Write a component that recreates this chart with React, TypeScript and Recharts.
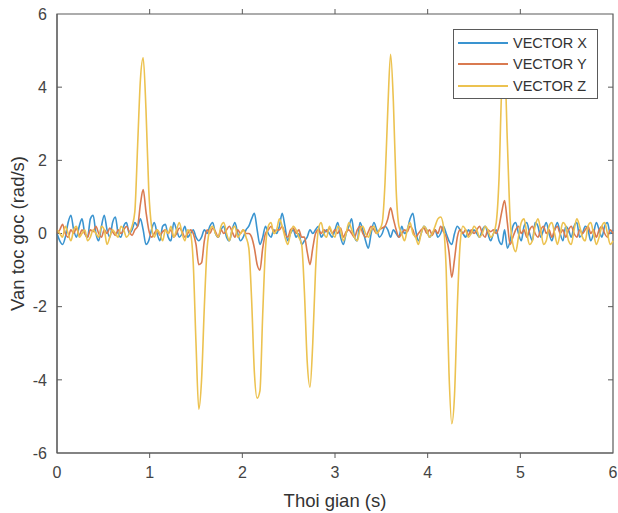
import React from "react";
import { Label, Line, LineChart, ReferenceArea, ReferenceLine, XAxis, YAxis } from "recharts";

// samples every 0.03 s from 0 to 6 s
const STEP = 0.03;

const vectorX = [
  0.0, -0.2, -0.3, -0.1, 0.3, 0.5, 0.1, -0.1, 0.2, 0.4,
  0.0, -0.1, 0.4, 0.5, 0.0, -0.2, 0.2, 0.5, 0.1, -0.1,
  0.3, 0.45, 0.0, -0.1, 0.2, 0.3, 0.0, 0.1, 0.3, 0.2,
  0.4, 0.1, -0.3, -0.2, 0.1, 0.3, 0.0, -0.2, 0.2, 0.25,
  -0.1, -0.2, 0.3, 0.1, -0.1, 0.0, 0.2, -0.1, 0.0, 0.1,
  -0.1, -0.2, -0.1, 0.1, 0.0, 0.2, 0.3, 0.0, -0.1, 0.1,
  0.2, -0.1, -0.2, 0.1, 0.3, 0.0, -0.2, -0.1, 0.1, 0.2,
  0.4, 0.55, 0.1, -0.3, -0.1, 0.2, 0.0, -0.1, 0.1, 0.0,
  0.2, 0.55, 0.2, -0.2, 0.0, 0.1, -0.1, 0.0, -0.3, -0.2,
  -0.1, 0.1, 0.0, 0.1, 0.2, -0.1, 0.0, 0.1, 0.0, -0.1,
  0.1, 0.3, -0.1, -0.3, 0.0, 0.2, 0.4, -0.1, -0.2, 0.3,
  0.1, -0.2, -0.4, 0.0, 0.3, 0.1, -0.1, 0.0, 0.2, 0.1,
  -0.1, 0.1, 0.0, -0.1, 0.2, 0.0, 0.1, 0.4, 0.55, 0.1,
  -0.2, 0.0, 0.2, 0.1, -0.1, 0.0, 0.1, -0.1, 0.0, 0.2,
  0.0, -0.2, -0.3, 0.0, 0.2, 0.1, 0.0, -0.1, 0.1, 0.0,
  0.1, 0.0, -0.1, 0.1, 0.2, 0.0, -0.2, 0.0, 0.1, -0.2,
  -0.3, 0.1, -0.4, -0.2, 0.2, 0.3, 0.0, -0.2, 0.2, 0.3,
  0.0, -0.2, 0.3, 0.2, -0.1, 0.1, 0.3, 0.0, -0.2, 0.1,
  0.3, 0.0, -0.2, 0.2, 0.1, -0.1, 0.2, 0.3, -0.1, 0.0,
  0.2, 0.1, -0.2, 0.0, 0.3, 0.1, -0.1, 0.2, 0.3, 0.0,
  0.1,
];

const vectorY = [
  0.0, 0.1, 0.25, 0.0, -0.1, 0.1, 0.0, 0.15, -0.05, 0.1,
  0.0, -0.1, 0.1, 0.05, 0.2, 0.0, -0.1, 0.1, 0.0, 0.15,
  0.05, -0.05, 0.1, 0.0, 0.1, 0.2, 0.05, -0.05, 0.1, 0.2,
  0.8, 1.2, 0.6, 0.1, -0.1, 0.0, 0.1, -0.05, 0.05, 0.1,
  0.0, 0.1, -0.1, 0.0, 0.15, 0.05, -0.1, 0.0, 0.1, 0.0,
  -0.3, -0.85, -0.8, -0.2, 0.1, 0.0, 0.15, 0.05, -0.1, 0.1,
  0.0, 0.1, 0.2, 0.05, -0.1, 0.1, 0.0, 0.1, 0.0, 0.0,
  -0.1, -0.4, -0.85, -1.0, -0.4, 0.0, 0.1, 0.2, 0.05, 0.1,
  0.1, 0.2, 0.0, -0.1, 0.1, 0.15, 0.0, 0.1, -0.1, -0.1,
  -0.5, -0.85, -0.4, 0.0, 0.1, 0.0, 0.1, 0.05, 0.15, 0.0,
  0.1, 0.0, 0.15, -0.1, 0.05, 0.1, 0.0, -0.1, 0.1, 0.2,
  0.0, -0.1, 0.05, 0.2, 0.1, 0.0, 0.1, 0.15, 0.2, 0.4,
  0.7, 0.4, 0.1, -0.1, 0.0, 0.1, 0.05, 0.2, 0.1, -0.1,
  0.0, 0.1, 0.15, 0.0, 0.1, -0.05, 0.1, 0.0, 0.2, 0.05,
  -0.1, -0.5, -1.2, -0.7, -0.1, 0.1, 0.0, 0.1, -0.05, 0.1,
  0.0, 0.1, 0.2, 0.0, -0.1, 0.1, 0.05, 0.1, 0.0, 0.2,
  0.6, 0.9, 0.3, -0.3, -0.1, 0.1, 0.2, 0.0, 0.1, -0.1,
  0.1, 0.2, 0.0, -0.1, 0.1, 0.2, 0.0, 0.1, -0.1, 0.1,
  0.2, 0.0, 0.1, -0.1, 0.1, 0.2, 0.0, -0.1, 0.1, 0.0,
  0.1, 0.2, 0.0, 0.1, -0.1, 0.1, 0.2, 0.0, -0.1, 0.1,
  0.0,
];

const vectorZ = [
  0.1, 0.0, -0.1, 0.2, 0.0, -0.2, 0.1, 0.2, -0.1, 0.0,
  0.1, -0.2, -0.1, 0.1, 0.0, -0.1, 0.2, 0.1, -0.3, -0.1,
  0.1, 0.0, -0.1, 0.2, 0.1, -0.1, 0.0, 0.2, 0.6, 2.4,
  4.2, 4.8, 3.4, 1.2, 0.2, -0.1, 0.1, 0.0, -0.2, 0.1,
  0.0, 0.2, -0.1, 0.1, 0.3, 0.0, -0.2, 0.1, 0.0, -0.8,
  -3.0, -4.8, -4.0, -2.0, -0.4, 0.1, 0.2, 0.0, -0.1, 0.2,
  0.3, 0.0, -0.2, 0.1, 0.2, -0.1, 0.0, 0.1, -0.1, -0.4,
  -1.8, -3.8, -4.5, -4.3, -2.2, -0.4, 0.2, 0.3, 0.0, 0.1,
  0.4, 0.2, -0.1, -0.3, 0.0, 0.2, 0.1, -0.1, -0.3, -1.6,
  -3.5, -4.2, -3.0, -1.0, 0.1, 0.3, 0.0, -0.1, 0.2, 0.0,
  -0.1, 0.2, 0.1, -0.2, 0.0, 0.3, 0.1, -0.1, -0.2, 0.1,
  0.2, 0.0, -0.1, 0.1, 0.2, 0.0, 0.1, 0.3, 1.4, 3.4,
  4.9, 3.6, 1.2, 0.2, 0.0, -0.2, 0.1, 0.3, 0.0, -0.1,
  -0.3, 0.0, 0.2, 0.1, -0.1, 0.0, 0.2, 0.4, 0.45, 0.2,
  -1.0, -3.8, -5.2, -4.4, -2.0, -0.3, 0.2, 0.1, -0.1, 0.0,
  0.2, 0.1, -0.1, 0.0, 0.2, 0.1, -0.1, 0.0, 0.3, 1.5,
  4.0, 4.6, 2.5, 0.4, -0.3, -0.5, -0.1, 0.3, 0.4, 0.0,
  -0.3, -0.2, 0.2, 0.4, 0.1, -0.3, -0.2, 0.2, 0.3, 0.0,
  -0.3, 0.0, 0.3, 0.2, -0.2, -0.3, 0.1, 0.4, 0.2, -0.1,
  -0.2, 0.2, 0.3, 0.0, -0.3, -0.1, 0.2, 0.3, 0.0, -0.3,
  -0.2,
];

const xTicks = [0, 1, 2, 3, 4, 5, 6];
const yTicks = [-6, -4, -2, 0, 2, 4, 6];

const series = [
  { key: "x", name: "VECTOR X", color: "#3a94d0" },
  { key: "y", name: "VECTOR Y", color: "#d97a50" },
  { key: "z", name: "VECTOR Z", color: "#ecc250" },
];

const data = vectorX.map((v, i) => ({
  t: +(i * STEP).toFixed(2),
  x: v,
  y: vectorY[i],
  z: vectorZ[i],
}));

const AXIS = "#5a5a5a";
const TEXT = "#444";
const FONT = "'Liberation Sans', Arial, sans-serif";
const TICK_IN = 5;

// MATLAB-style inward tick marks on all four sides of the box
function XTickMarks(p: any) {
  const { x1, y1, x2, y2 } = p;
  return (
    <g stroke={AXIS} strokeWidth={1}>
      <line x1={x1} x2={x1} y1={y1} y2={y1 + TICK_IN} />
      <line x1={x2} x2={x2} y1={y2} y2={y2 - TICK_IN} />
    </g>
  );
}

function YTickMarks(p: any) {
  const { x1, y1, x2, y2 } = p;
  return (
    <g stroke={AXIS} strokeWidth={1}>
      <line x1={x1} x2={x1 + TICK_IN} y1={y1} y2={y1} />
      <line x1={x2} x2={x2 - TICK_IN} y1={y2} y2={y2} />
    </g>
  );
}

function LegendBox() {
  return (
    <div
      style={{
        position: "absolute",
        left: 453,
        top: 29,
        width: 145,
        height: 70,
        border: `1.5px solid ${AXIS}`,
        background: "#fff",
        fontFamily: FONT,
        fontSize: 14.5,
        color: "#333",
        boxSizing: "border-box",
        padding: "2px 0 0 4px",
      }}
    >
      {series.map((s) => (
        <div key={s.key} style={{ display: "flex", alignItems: "center", height: 21.5 }}>
          <span style={{ display: "inline-block", width: 50, height: 2, background: s.color }} />
          <span style={{ marginLeft: 5 }}>{s.name}</span>
        </div>
      ))}
    </div>
  );
}

export default function App() {
  return (
    <div style={{ position: "absolute", left: 0, top: 0, width: 618, height: 513, background: "#fff" }}>
      <LineChart width={618} height={513} data={data} margin={{ top: 14, right: 5, bottom: 0, left: 0 }}>
        <XAxis
          dataKey="t"
          type="number"
          domain={[0, 6]}
          ticks={xTicks}
          height={60}
          stroke={AXIS}
          tickLine={false}
          tickSize={0}
          tickMargin={14}
          tick={{ fill: TEXT, fontSize: 16, fontFamily: FONT }}
        >
          <Label
            value="Thoi gian (s)"
            position="insideBottom"
            offset={6}
            style={{ fill: "#333", fontSize: 18.5, fontFamily: FONT }}
          />
        </XAxis>
        <YAxis
          type="number"
          domain={[-6, 6]}
          ticks={yTicks}
          width={57}
          stroke={AXIS}
          tickLine={false}
          tickSize={0}
          tickMargin={10}
          tick={{ fill: TEXT, fontSize: 16, fontFamily: FONT }}
        >
          <Label
            value="Van toc goc (rad/s)"
            angle={-90}
            position="insideLeft"
            offset={17}
            style={{ fill: "#333", fontSize: 18.5, fontFamily: FONT, textAnchor: "middle" }}
          />
        </YAxis>
        <ReferenceArea x1={0} x2={6} y1={-6} y2={6} fill="none" stroke={AXIS} strokeWidth={1.2} />
        {xTicks.slice(1, -1).map((t) => (
          <ReferenceLine key={`xt${t}`} x={t} shape={<XTickMarks />} />
        ))}
        {yTicks.slice(1, -1).map((v) => (
          <ReferenceLine key={`yt${v}`} y={v} shape={<YTickMarks />} />
        ))}
        {series.map((s) => (
          <Line
            key={s.key}
            dataKey={s.key}
            name={s.name}
            type="monotone"
            stroke={s.color}
            strokeWidth={1.6}
            dot={false}
            isAnimationActive={false}
          />
        ))}
      </LineChart>
      <LegendBox />
    </div>
  );
}
